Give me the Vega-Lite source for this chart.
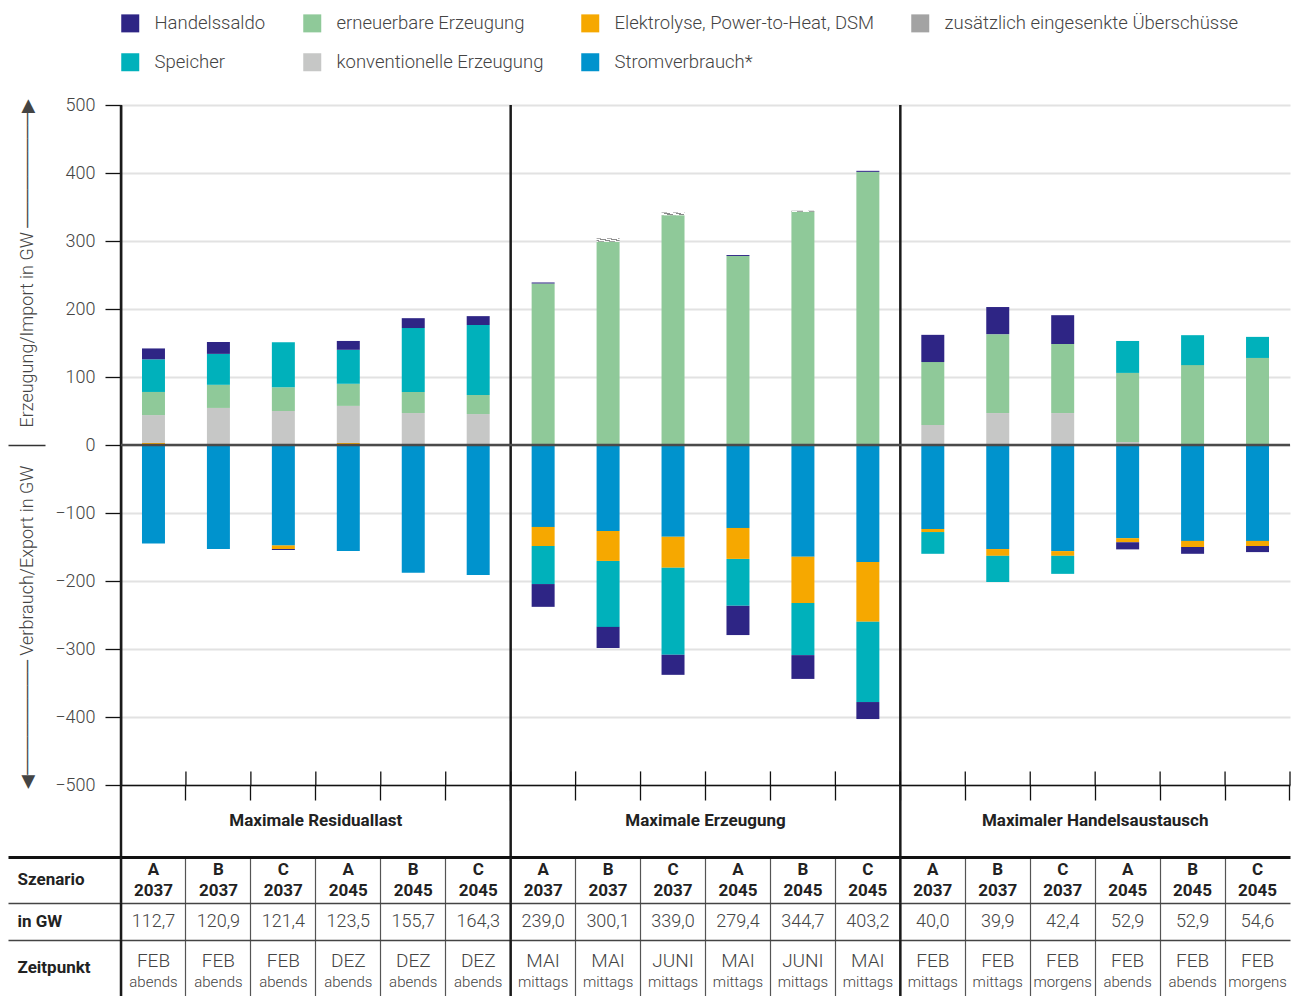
{
  "$schema": "https://vega.github.io/schema/vega-lite/v6.json",
  "padding": {"left": 6, "top": 14, "right": 6, "bottom": 0},
  "bounds": "flush",
  "spacing": 0,
  "config": {"view": {"stroke": null}, "font": "Roboto", "axis": {"labelFont": "Roboto", "titleFont": "Roboto"}, "legend": {"labelFont": "Roboto"}},
  "datasets": {
    "cols": [
      {"key": "Residuallast A 2037", "group": "Maximale Residuallast", "sz": "A", "year": "2037", "gw": "112,7", "month": "FEB", "time": "abends"},
      {"key": "Residuallast B 2037", "group": "Maximale Residuallast", "sz": "B", "year": "2037", "gw": "120,9", "month": "FEB", "time": "abends"},
      {"key": "Residuallast C 2037", "group": "Maximale Residuallast", "sz": "C", "year": "2037", "gw": "121,4", "month": "FEB", "time": "abends"},
      {"key": "Residuallast A 2045", "group": "Maximale Residuallast", "sz": "A", "year": "2045", "gw": "123,5", "month": "DEZ", "time": "abends"},
      {"key": "Residuallast B 2045", "group": "Maximale Residuallast", "sz": "B", "year": "2045", "gw": "155,7", "month": "DEZ", "time": "abends"},
      {"key": "Residuallast C 2045", "group": "Maximale Residuallast", "sz": "C", "year": "2045", "gw": "164,3", "month": "DEZ", "time": "abends"},
      {"key": "Erzeugung A 2037", "group": "Maximale Erzeugung", "sz": "A", "year": "2037", "gw": "239,0", "month": "MAI", "time": "mittags"},
      {"key": "Erzeugung B 2037", "group": "Maximale Erzeugung", "sz": "B", "year": "2037", "gw": "300,1", "month": "MAI", "time": "mittags"},
      {"key": "Erzeugung C 2037", "group": "Maximale Erzeugung", "sz": "C", "year": "2037", "gw": "339,0", "month": "JUNI", "time": "mittags"},
      {"key": "Erzeugung A 2045", "group": "Maximale Erzeugung", "sz": "A", "year": "2045", "gw": "279,4", "month": "MAI", "time": "mittags"},
      {"key": "Erzeugung B 2045", "group": "Maximale Erzeugung", "sz": "B", "year": "2045", "gw": "344,7", "month": "JUNI", "time": "mittags"},
      {"key": "Erzeugung C 2045", "group": "Maximale Erzeugung", "sz": "C", "year": "2045", "gw": "403,2", "month": "MAI", "time": "mittags"},
      {"key": "Handelsaustausch A 2037", "group": "Maximaler Handelsaustausch", "sz": "A", "year": "2037", "gw": "40,0", "month": "FEB", "time": "mittags"},
      {"key": "Handelsaustausch B 2037", "group": "Maximaler Handelsaustausch", "sz": "B", "year": "2037", "gw": "39,9", "month": "FEB", "time": "mittags"},
      {"key": "Handelsaustausch C 2037", "group": "Maximaler Handelsaustausch", "sz": "C", "year": "2037", "gw": "42,4", "month": "FEB", "time": "morgens"},
      {"key": "Handelsaustausch A 2045", "group": "Maximaler Handelsaustausch", "sz": "A", "year": "2045", "gw": "52,9", "month": "FEB", "time": "abends"},
      {"key": "Handelsaustausch B 2045", "group": "Maximaler Handelsaustausch", "sz": "B", "year": "2045", "gw": "52,9", "month": "FEB", "time": "abends"},
      {"key": "Handelsaustausch C 2045", "group": "Maximaler Handelsaustausch", "sz": "C", "year": "2045", "gw": "54,6", "month": "FEB", "time": "morgens"}
    ],
    "bars": [
      {"key": "Residuallast A 2037", "cat": "Elektrolyse, Power-to-Heat, DSM", "value": 3},
      {"key": "Residuallast A 2037", "cat": "konventionelle Erzeugung", "value": 41},
      {"key": "Residuallast A 2037", "cat": "erneuerbare Erzeugung", "value": 34},
      {"key": "Residuallast A 2037", "cat": "Speicher", "value": 48},
      {"key": "Residuallast A 2037", "cat": "Handelssaldo", "value": 16},
      {"key": "Residuallast A 2037", "cat": "Stromverbrauch*", "value": -145},
      {"key": "Residuallast B 2037", "cat": "Elektrolyse, Power-to-Heat, DSM", "value": 1.5},
      {"key": "Residuallast B 2037", "cat": "konventionelle Erzeugung", "value": 53},
      {"key": "Residuallast B 2037", "cat": "erneuerbare Erzeugung", "value": 34},
      {"key": "Residuallast B 2037", "cat": "Speicher", "value": 45.5},
      {"key": "Residuallast B 2037", "cat": "Handelssaldo", "value": 17.5},
      {"key": "Residuallast B 2037", "cat": "Stromverbrauch*", "value": -153},
      {"key": "Residuallast C 2037", "cat": "konventionelle Erzeugung", "value": 50},
      {"key": "Residuallast C 2037", "cat": "erneuerbare Erzeugung", "value": 35},
      {"key": "Residuallast C 2037", "cat": "Speicher", "value": 66},
      {"key": "Residuallast C 2037", "cat": "Elektrolyse, Power-to-Heat, DSM", "value": -5.5},
      {"key": "Residuallast C 2037", "cat": "Handelssaldo", "value": -1.5},
      {"key": "Residuallast C 2037", "cat": "Stromverbrauch*", "value": -147.5},
      {"key": "Residuallast A 2045", "cat": "Elektrolyse, Power-to-Heat, DSM", "value": 3},
      {"key": "Residuallast A 2045", "cat": "konventionelle Erzeugung", "value": 54.5},
      {"key": "Residuallast A 2045", "cat": "erneuerbare Erzeugung", "value": 32.5},
      {"key": "Residuallast A 2045", "cat": "Speicher", "value": 50},
      {"key": "Residuallast A 2045", "cat": "Handelssaldo", "value": 13},
      {"key": "Residuallast A 2045", "cat": "Stromverbrauch*", "value": -156},
      {"key": "Residuallast B 2045", "cat": "konventionelle Erzeugung", "value": 47},
      {"key": "Residuallast B 2045", "cat": "erneuerbare Erzeugung", "value": 31},
      {"key": "Residuallast B 2045", "cat": "Speicher", "value": 94},
      {"key": "Residuallast B 2045", "cat": "Handelssaldo", "value": 14.5},
      {"key": "Residuallast B 2045", "cat": "Stromverbrauch*", "value": -188},
      {"key": "Residuallast C 2045", "cat": "konventionelle Erzeugung", "value": 45.5},
      {"key": "Residuallast C 2045", "cat": "erneuerbare Erzeugung", "value": 28},
      {"key": "Residuallast C 2045", "cat": "Speicher", "value": 103},
      {"key": "Residuallast C 2045", "cat": "Handelssaldo", "value": 13},
      {"key": "Residuallast C 2045", "cat": "Stromverbrauch*", "value": -191},
      {"key": "Erzeugung A 2037", "cat": "erneuerbare Erzeugung", "value": 237.5},
      {"key": "Erzeugung A 2037", "cat": "Handelssaldo", "value": 1.5},
      {"key": "Erzeugung A 2037", "cat": "Stromverbrauch*", "value": -120.5},
      {"key": "Erzeugung A 2037", "cat": "Elektrolyse, Power-to-Heat, DSM", "value": -28},
      {"key": "Erzeugung A 2037", "cat": "Speicher", "value": -56},
      {"key": "Erzeugung A 2037", "cat": "Handelssaldo", "value": -33.5},
      {"key": "Erzeugung B 2037", "cat": "erneuerbare Erzeugung", "value": 299},
      {"key": "Erzeugung B 2037", "cat": "zusätzlich eingesenkte Überschüsse", "value": 5},
      {"key": "Erzeugung B 2037", "cat": "Stromverbrauch*", "value": -126.5},
      {"key": "Erzeugung B 2037", "cat": "Elektrolyse, Power-to-Heat, DSM", "value": -44},
      {"key": "Erzeugung B 2037", "cat": "Speicher", "value": -97},
      {"key": "Erzeugung B 2037", "cat": "Handelssaldo", "value": -31},
      {"key": "Erzeugung C 2037", "cat": "erneuerbare Erzeugung", "value": 338},
      {"key": "Erzeugung C 2037", "cat": "zusätzlich eingesenkte Überschüsse", "value": 4},
      {"key": "Erzeugung C 2037", "cat": "Stromverbrauch*", "value": -135},
      {"key": "Erzeugung C 2037", "cat": "Elektrolyse, Power-to-Heat, DSM", "value": -45.5},
      {"key": "Erzeugung C 2037", "cat": "Speicher", "value": -128},
      {"key": "Erzeugung C 2037", "cat": "Handelssaldo", "value": -29.5},
      {"key": "Erzeugung A 2045", "cat": "erneuerbare Erzeugung", "value": 278},
      {"key": "Erzeugung A 2045", "cat": "Handelssaldo", "value": 1.4},
      {"key": "Erzeugung A 2045", "cat": "Stromverbrauch*", "value": -122},
      {"key": "Erzeugung A 2045", "cat": "Elektrolyse, Power-to-Heat, DSM", "value": -45.5},
      {"key": "Erzeugung A 2045", "cat": "Speicher", "value": -69},
      {"key": "Erzeugung A 2045", "cat": "Handelssaldo", "value": -43},
      {"key": "Erzeugung B 2045", "cat": "erneuerbare Erzeugung", "value": 343},
      {"key": "Erzeugung B 2045", "cat": "zusätzlich eingesenkte Überschüsse", "value": 1.5},
      {"key": "Erzeugung B 2045", "cat": "Stromverbrauch*", "value": -164.5},
      {"key": "Erzeugung B 2045", "cat": "Elektrolyse, Power-to-Heat, DSM", "value": -68},
      {"key": "Erzeugung B 2045", "cat": "Speicher", "value": -76.5},
      {"key": "Erzeugung B 2045", "cat": "Handelssaldo", "value": -35},
      {"key": "Erzeugung C 2045", "cat": "erneuerbare Erzeugung", "value": 401.7},
      {"key": "Erzeugung C 2045", "cat": "Handelssaldo", "value": 1.5},
      {"key": "Erzeugung C 2045", "cat": "Stromverbrauch*", "value": -172},
      {"key": "Erzeugung C 2045", "cat": "Elektrolyse, Power-to-Heat, DSM", "value": -88},
      {"key": "Erzeugung C 2045", "cat": "Speicher", "value": -118},
      {"key": "Erzeugung C 2045", "cat": "Handelssaldo", "value": -25},
      {"key": "Handelsaustausch A 2037", "cat": "konventionelle Erzeugung", "value": 29.5},
      {"key": "Handelsaustausch A 2037", "cat": "erneuerbare Erzeugung", "value": 92.5},
      {"key": "Handelsaustausch A 2037", "cat": "Handelssaldo", "value": 40},
      {"key": "Handelsaustausch A 2037", "cat": "Stromverbrauch*", "value": -123.5},
      {"key": "Handelsaustausch A 2037", "cat": "Elektrolyse, Power-to-Heat, DSM", "value": -4.5},
      {"key": "Handelsaustausch A 2037", "cat": "Speicher", "value": -32},
      {"key": "Handelsaustausch B 2037", "cat": "konventionelle Erzeugung", "value": 47},
      {"key": "Handelsaustausch B 2037", "cat": "erneuerbare Erzeugung", "value": 116},
      {"key": "Handelsaustausch B 2037", "cat": "Handelssaldo", "value": 39.9},
      {"key": "Handelsaustausch B 2037", "cat": "Stromverbrauch*", "value": -153},
      {"key": "Handelsaustausch B 2037", "cat": "Elektrolyse, Power-to-Heat, DSM", "value": -10},
      {"key": "Handelsaustausch B 2037", "cat": "Speicher", "value": -38.5},
      {"key": "Handelsaustausch C 2037", "cat": "konventionelle Erzeugung", "value": 47},
      {"key": "Handelsaustausch C 2037", "cat": "erneuerbare Erzeugung", "value": 101.5},
      {"key": "Handelsaustausch C 2037", "cat": "Handelssaldo", "value": 42.4},
      {"key": "Handelsaustausch C 2037", "cat": "Stromverbrauch*", "value": -156},
      {"key": "Handelsaustausch C 2037", "cat": "Elektrolyse, Power-to-Heat, DSM", "value": -7},
      {"key": "Handelsaustausch C 2037", "cat": "Speicher", "value": -26.5},
      {"key": "Handelsaustausch A 2045", "cat": "konventionelle Erzeugung", "value": 4.5},
      {"key": "Handelsaustausch A 2045", "cat": "erneuerbare Erzeugung", "value": 101.5},
      {"key": "Handelsaustausch A 2045", "cat": "Speicher", "value": 47},
      {"key": "Handelsaustausch A 2045", "cat": "Stromverbrauch*", "value": -137},
      {"key": "Handelsaustausch A 2045", "cat": "Elektrolyse, Power-to-Heat, DSM", "value": -6},
      {"key": "Handelsaustausch A 2045", "cat": "Handelssaldo", "value": -10.5},
      {"key": "Handelsaustausch B 2045", "cat": "konventionelle Erzeugung", "value": 1.5},
      {"key": "Handelsaustausch B 2045", "cat": "erneuerbare Erzeugung", "value": 116},
      {"key": "Handelsaustausch B 2045", "cat": "Speicher", "value": 44},
      {"key": "Handelsaustausch B 2045", "cat": "Stromverbrauch*", "value": -141},
      {"key": "Handelsaustausch B 2045", "cat": "Elektrolyse, Power-to-Heat, DSM", "value": -9},
      {"key": "Handelsaustausch B 2045", "cat": "Handelssaldo", "value": -10},
      {"key": "Handelsaustausch C 2045", "cat": "konventionelle Erzeugung", "value": 1.5},
      {"key": "Handelsaustausch C 2045", "cat": "erneuerbare Erzeugung", "value": 126.5},
      {"key": "Handelsaustausch C 2045", "cat": "Speicher", "value": 31},
      {"key": "Handelsaustausch C 2045", "cat": "Stromverbrauch*", "value": -141},
      {"key": "Handelsaustausch C 2045", "cat": "Elektrolyse, Power-to-Heat, DSM", "value": -7.5},
      {"key": "Handelsaustausch C 2045", "cat": "Handelssaldo", "value": -9}
    ]
  },
  "vconcat": [
    {
      "width": 1169,
      "height": 680,
      "layer": [
        {
          "layer": [
            {
              "data": {"name": "bars"},
              "transform": [{"calculate": "indexof(['Stromverbrauch*','Elektrolyse, Power-to-Heat, DSM','konventionelle Erzeugung','erneuerbare Erzeugung','zusätzlich eingesenkte Überschüsse','Speicher','Handelssaldo'], datum.cat)", "as": "ord"}],
              "mark": {"type": "bar", "width": {"band": 0.354}},
              "encoding": {
                "x": {"field": "key", "type": "nominal",
                  "scale": {"type": "band", "paddingInner": 0, "paddingOuter": 0, "domain": ["Residuallast A 2037","Residuallast B 2037","Residuallast C 2037","Residuallast A 2045","Residuallast B 2045","Residuallast C 2045","Erzeugung A 2037","Erzeugung B 2037","Erzeugung C 2037","Erzeugung A 2045","Erzeugung B 2045","Erzeugung C 2045","Handelsaustausch A 2037","Handelsaustausch B 2037","Handelsaustausch C 2037","Handelsaustausch A 2045","Handelsaustausch B 2045","Handelsaustausch C 2045"]},
                  "axis": {"orient": "bottom", "bandPosition": 1, "labels": false, "title": null, "grid": false, "domain": true, "domainColor": "#111111", "domainWidth": 1.5, "ticks": true, "tickSize": 15, "tickColor": "#111111", "tickWidth": 1.3}},
                "y": {"field": "value", "type": "quantitative", "stack": "zero",
                  "scale": {"domain": [-500, 500], "nice": false, "zero": false},
                  "axis": {"orient": "left", "values": [-500, -400, -300, -200, -100, 0, 100, 200, 300, 400, 500], "format": "d", "labelFlush": false, "labelOverlap": false,
                    "grid": true, "gridColor": "#e2e2e2", "gridWidth": 2,
                    "domain": true, "domainColor": "#111111", "domainWidth": 1.5,
                    "ticks": true, "tickSize": 16, "tickColor": "#111111", "tickWidth": 1.3,
                    "labelFontSize": 18, "labelColor": "#444444", "labelFontWeight": 300, "labelPadding": 10,
                    "title": "Erzeugung/Import in GW ─────────▶", "titleX": -94, "titleY": 322, "titleAngle": -90, "titleAlign": "left", "titleBaseline": "middle", "titleFontSize": 18, "titleFontWeight": 300, "titleColor": "#444444"}},
                "color": {"field": "cat", "type": "nominal",
                  "condition": {"test": "datum.cat === 'zusätzlich eingesenkte Überschüsse'", "value": {"gradient": "linear", "x1": 0, "y1": 0, "x2": 1, "y2": 1, "stops": [{"offset": 0, "color": "#8c8c8c"}, {"offset": 0.125, "color": "#8c8c8c"}, {"offset": 0.125, "color": "#ffffff"}, {"offset": 0.25, "color": "#ffffff"}, {"offset": 0.25, "color": "#8c8c8c"}, {"offset": 0.375, "color": "#8c8c8c"}, {"offset": 0.375, "color": "#ffffff"}, {"offset": 0.5, "color": "#ffffff"}, {"offset": 0.5, "color": "#8c8c8c"}, {"offset": 0.625, "color": "#8c8c8c"}, {"offset": 0.625, "color": "#ffffff"}, {"offset": 0.75, "color": "#ffffff"}, {"offset": 0.75, "color": "#8c8c8c"}, {"offset": 0.875, "color": "#8c8c8c"}, {"offset": 0.875, "color": "#ffffff"}, {"offset": 1, "color": "#ffffff"}]}},
                  "scale": {"domain": ["Handelssaldo", "erneuerbare Erzeugung", "Elektrolyse, Power-to-Heat, DSM", "zusätzlich eingesenkte Überschüsse", "Speicher", "konventionelle Erzeugung", "Stromverbrauch*"],
                            "range": ["#2e2585", "#8fc999", "#f6a800", "#a3a3a3", "#00b1bb", "#c6c7c6", "#0093cd"]},
                  "legend": {"orient": "top", "direction": "horizontal", "columns": 4, "title": null, "symbolType": "square", "symbolSize": 324, "symbolStrokeWidth": 0, "symbolOpacity": 1,
                    "labelFontSize": 18.5, "labelColor": "#444444", "labelFontWeight": 300, "labelOffset": 15, "labelLimit": 0,
                    "columnPadding": 37, "rowPadding": 20, "offset": 24}},
                "order": {"field": "ord", "type": "quantitative"}
              }
            },
            {
              "data": {"name": "cols"},
              "transform": [{"filter": "datum.sz === 'A' && datum.year === '2037'"}],
              "mark": {"type": "rule", "color": "#1a1a1a", "strokeWidth": 2.5},
              "encoding": {"x": {"field": "key", "type": "nominal", "bandPosition": 0}}
            }
          ]
        },
        {
          "data": {"values": [{}]},
          "mark": {"type": "rule", "color": "#4a4a4a", "strokeWidth": 2.5},
          "encoding": {
            "y": {"datum": 0, "type": "quantitative", "scale": {"domain": [-500, 500], "nice": false, "zero": false},
              "axis": {"orient": "left", "offset": 76, "values": [0], "labels": false, "ticks": true, "tickSize": 37, "tickColor": "#333333", "tickWidth": 1.3, "domain": false, "grid": false,
                "title": "◀───────── Verbrauch/Export in GW", "titleX": -18, "titleY": 360, "titleAngle": -90, "titleAlign": "right", "titleBaseline": "middle", "titleFontSize": 18, "titleFontWeight": 300, "titleColor": "#444444"}}
          }
        },
        {
          "data": {"name": "cols"},
          "mark": {"type": "rule", "color": "#111111", "strokeWidth": 1.3},
          "encoding": {
            "x": {"field": "key", "type": "nominal", "bandPosition": 1},
            "y": {"datum": -500, "type": "quantitative", "scale": {"domain": [-500, 500], "nice": false, "zero": false}, "axis": null},
            "y2": {"datum": -480}
          }
        }
      ],
      "resolve": {"scale": {"y": "independent"}, "axis": {"y": "independent"}}
    },
    {
      "width": 1169,
      "height": 72,
      "data": {"name": "cols"},
      "layer": [
        {
          "transform": [{"filter": "datum.sz === 'A' && datum.year === '2045'"}],
          "mark": {"type": "text", "fontSize": 17, "fontWeight": "bold", "color": "#222222"},
          "encoding": {
            "x": {"field": "key", "type": "nominal", "bandPosition": 0,
              "scale": {"type": "band", "paddingInner": 0, "paddingOuter": 0, "domain": ["Residuallast A 2037","Residuallast B 2037","Residuallast C 2037","Residuallast A 2045","Residuallast B 2045","Residuallast C 2045","Erzeugung A 2037","Erzeugung B 2037","Erzeugung C 2037","Erzeugung A 2045","Erzeugung B 2045","Erzeugung C 2045","Handelsaustausch A 2037","Handelsaustausch B 2037","Handelsaustausch C 2037","Handelsaustausch A 2045","Handelsaustausch B 2045","Handelsaustausch C 2045"]},
              "axis": null},
            "text": {"field": "group"}
          }
        },
        {
          "transform": [{"filter": "datum.sz === 'A' && datum.year === '2037'"}],
          "mark": {"type": "rule", "color": "#1a1a1a", "strokeWidth": 2.5},
          "encoding": {"x": {"field": "key", "type": "nominal", "bandPosition": 0}}
        }
      ]
    },
    {
      "width": 1169,
      "height": 46,
      "data": {"name": "cols"},
      "layer": [
        {
          "mark": {"type": "text", "fontSize": 17, "fontWeight": "bold", "color": "#222222", "dy": -10},
          "encoding": {
            "x": {"field": "key", "type": "nominal",
              "scale": {"type": "band", "paddingInner": 0, "paddingOuter": 0, "domain": ["Residuallast A 2037","Residuallast B 2037","Residuallast C 2037","Residuallast A 2045","Residuallast B 2045","Residuallast C 2045","Erzeugung A 2037","Erzeugung B 2037","Erzeugung C 2037","Erzeugung A 2045","Erzeugung B 2045","Erzeugung C 2045","Handelsaustausch A 2037","Handelsaustausch B 2037","Handelsaustausch C 2037","Handelsaustausch A 2045","Handelsaustausch B 2045","Handelsaustausch C 2045"]},
              "axis": {"orient": "top", "bandPosition": 0, "grid": true, "gridColor": "#555555", "gridWidth": 1.2, "ticks": false, "labels": false, "domain": false, "title": null}},
            "y": {"datum": "Szenario", "type": "nominal", "scale": {"type": "band", "paddingInner": 0, "paddingOuter": 0},
              "axis": {"orient": "left", "bandPosition": 0, "grid": true, "gridColor": "#111111", "gridWidth": 3, "ticks": true, "tickSize": 113, "tickColor": "#111111", "tickWidth": 3, "domain": false, "labelAlign": "left", "labelPadding": -9, "labelFontSize": 17, "labelFontWeight": "bold", "labelColor": "#222222", "title": null}},
            "text": {"field": "sz"}
          }
        },
        {
          "mark": {"type": "text", "fontSize": 17, "fontWeight": "bold", "color": "#222222", "dy": 11},
          "encoding": {
            "x": {"field": "key", "type": "nominal"},
            "y": {"datum": "Szenario", "type": "nominal"},
            "text": {"field": "year"}
          }
        },
        {
          "transform": [{"filter": "datum.sz === 'A' && datum.year === '2037'"}],
          "mark": {"type": "rule", "color": "#1a1a1a", "strokeWidth": 2.5},
          "encoding": {"x": {"field": "key", "type": "nominal", "bandPosition": 0}}
        }
      ]
    },
    {
      "width": 1169,
      "height": 37,
      "data": {"name": "cols"},
      "layer": [
        {
          "mark": {"type": "text", "fontSize": 18, "fontWeight": 300, "color": "#444444"},
          "encoding": {
            "x": {"field": "key", "type": "nominal",
              "scale": {"type": "band", "paddingInner": 0, "paddingOuter": 0, "domain": ["Residuallast A 2037","Residuallast B 2037","Residuallast C 2037","Residuallast A 2045","Residuallast B 2045","Residuallast C 2045","Erzeugung A 2037","Erzeugung B 2037","Erzeugung C 2037","Erzeugung A 2045","Erzeugung B 2045","Erzeugung C 2045","Handelsaustausch A 2037","Handelsaustausch B 2037","Handelsaustausch C 2037","Handelsaustausch A 2045","Handelsaustausch B 2045","Handelsaustausch C 2045"]},
              "axis": {"orient": "top", "bandPosition": 0, "grid": true, "gridColor": "#555555", "gridWidth": 1.2, "ticks": false, "labels": false, "domain": false, "title": null}},
            "y": {"datum": "in GW", "type": "nominal", "scale": {"type": "band", "paddingInner": 0, "paddingOuter": 0},
              "axis": {"orient": "left", "bandPosition": 0, "grid": true, "gridColor": "#444444", "gridWidth": 1.3, "ticks": true, "tickSize": 113, "tickColor": "#444444", "tickWidth": 1.3, "domain": false, "labelAlign": "left", "labelPadding": -9, "labelFontSize": 17, "labelFontWeight": "bold", "labelColor": "#222222", "title": null}},
            "text": {"field": "gw"}
          }
        },
        {
          "transform": [{"filter": "datum.sz === 'A' && datum.year === '2037'"}],
          "mark": {"type": "rule", "color": "#1a1a1a", "strokeWidth": 2.5},
          "encoding": {"x": {"field": "key", "type": "nominal", "bandPosition": 0}}
        }
      ]
    },
    {
      "width": 1169,
      "height": 56,
      "data": {"name": "cols"},
      "layer": [
        {
          "mark": {"type": "text", "fontSize": 19, "fontWeight": 300, "color": "#444444", "dy": -7},
          "encoding": {
            "x": {"field": "key", "type": "nominal",
              "scale": {"type": "band", "paddingInner": 0, "paddingOuter": 0, "domain": ["Residuallast A 2037","Residuallast B 2037","Residuallast C 2037","Residuallast A 2045","Residuallast B 2045","Residuallast C 2045","Erzeugung A 2037","Erzeugung B 2037","Erzeugung C 2037","Erzeugung A 2045","Erzeugung B 2045","Erzeugung C 2045","Handelsaustausch A 2037","Handelsaustausch B 2037","Handelsaustausch C 2037","Handelsaustausch A 2045","Handelsaustausch B 2045","Handelsaustausch C 2045"]},
              "axis": {"orient": "top", "bandPosition": 0, "grid": true, "gridColor": "#555555", "gridWidth": 1.2, "ticks": false, "labels": false, "domain": false, "title": null}},
            "y": {"datum": "Zeitpunkt", "type": "nominal", "scale": {"type": "band", "paddingInner": 0, "paddingOuter": 0},
              "axis": {"orient": "left", "bandPosition": 0, "grid": true, "gridColor": "#444444", "gridWidth": 1.3, "ticks": true, "tickSize": 113, "tickColor": "#444444", "tickWidth": 1.3, "domain": false, "labelAlign": "left", "labelPadding": -9, "labelFontSize": 17, "labelFontWeight": "bold", "labelColor": "#222222", "title": null}},
            "text": {"field": "month"}
          }
        },
        {
          "mark": {"type": "text", "fontSize": 15, "fontWeight": 300, "color": "#444444", "dy": 14},
          "encoding": {
            "x": {"field": "key", "type": "nominal"},
            "y": {"datum": "Zeitpunkt", "type": "nominal"},
            "text": {"field": "time"}
          }
        },
        {
          "transform": [{"filter": "datum.sz === 'A' && datum.year === '2037'"}],
          "mark": {"type": "rule", "color": "#1a1a1a", "strokeWidth": 2.5},
          "encoding": {"x": {"field": "key", "type": "nominal", "bandPosition": 0}}
        }
      ]
    }
  ]
}
